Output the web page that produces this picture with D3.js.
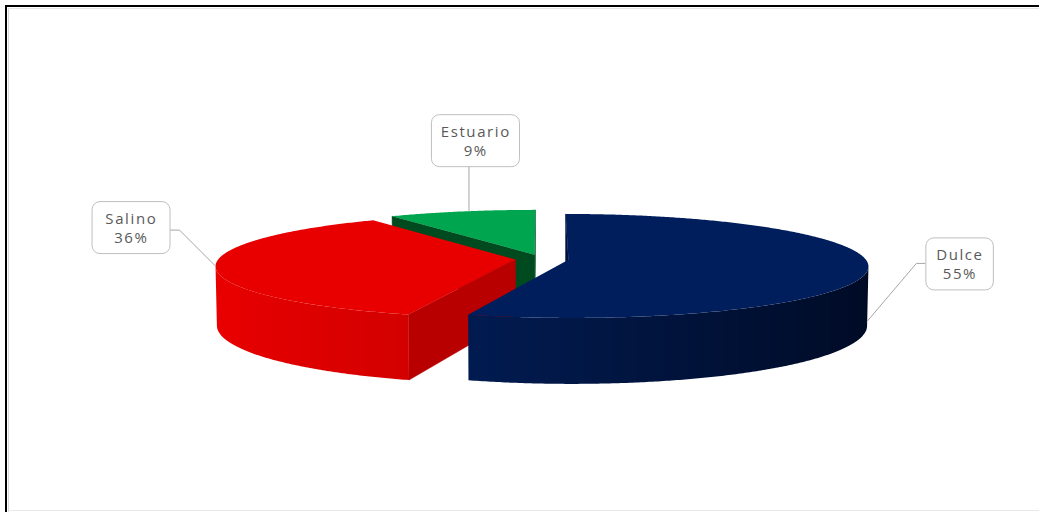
<!DOCTYPE html>
<html>
<head>
<meta charset="utf-8">
<script src="https://cdn.jsdelivr.net/npm/d3@7"></script>
<style>
  html, body { margin: 0; padding: 0; background: #ffffff; }
  svg { display: block; }
</style>
</head>
<body>
<svg id="chart" width="1039" height="512"></svg>
<script>
// ---------- data ----------
const categories = ["Dulce", "Salino", "Estuario"];
const values = [55, 36, 9];
const percentLabels = ["55%", "36%", "9%"];

// ---------- styles ----------
const topColors = ["#011e5c", "#e80000", "#00a54f"];
const sideLight = ["#022468", "#ea0000", "#00a850"];
const sideDark = ["#000a24", "#a80000", "#00602a"];
const radialColors = ["#00123f", "#b90000", "#004a1f"];
const labelAnchorDepth = [0.9, 0, 0];          // fraction of thickness for leader anchor
const labelAnchorFrac = [0.5, 0.5, 0.55];      // position of anchor along the slice angle
const labelBoxOffset = [[92, -58], [-85, -39], [6, -71]]; // box centre relative to anchor
const labelBoxPad = [20, 26, 18];

const W = 1039, H = 512;
const svg = d3.select("#chart");
const defs = svg.append("defs");

// frame
svg.append("rect").attr("x", 0).attr("y", 0).attr("width", W).attr("height", H).attr("fill", "#fff");
svg.append("line").attr("x1", 8.5).attr("y1", 8).attr("x2", 8.5).attr("y2", H).attr("stroke", "#d9d9d9").attr("stroke-width", 1);
svg.append("line").attr("x1", 8).attr("y1", 8.5).attr("x2", W).attr("y2", 8.5).attr("stroke", "#e6e6e6").attr("stroke-width", 1);
svg.append("line").attr("x1", 8).attr("y1", 510.5).attr("x2", W).attr("y2", 510.5).attr("stroke", "#e8e8e8").attr("stroke-width", 1);
svg.append("line").attr("x1", 5).attr("y1", 6).attr("x2", W).attr("y2", 6).attr("stroke", "#000").attr("stroke-width", 2);
svg.append("line").attr("x1", 6).attr("y1", 5).attr("x2", 6).attr("y2", H).attr("stroke", "#000").attr("stroke-width", 2);

// ---------- 3D projection ----------
const cam = { cx: 542, cy: 259, F: 2453, D: 8.26, sa: 0.172 };
cam.ca = Math.sqrt(1 - cam.sa * cam.sa);
const thick = 0.2;     // pie thickness (world units, radius = 1)
const explode = 0.09;  // explosion distance

function proj(X, Z, Y) {
  const Yp = Y * cam.ca + Z * cam.sa;
  const Zp = Z * cam.ca - Y * cam.sa;
  const s = cam.F / (cam.D + Zp);
  return [cam.cx + X * s, cam.cy - Yp * s];
}
function area(pts) {
  let s = 0;
  for (let i = 0; i < pts.length; i++) {
    const a = pts[i], b = pts[(i + 1) % pts.length];
    s += a[0] * b[1] - b[0] * a[1];
  }
  return s;
}
const line = d3.line();
function poly(pts) { return line(pts) + "Z"; }

const pie = d3.pie().sort(null).value(d => d).startAngle(0).endAngle(2 * Math.PI);
const arcs = pie(values).map((a, i) => {
  const mid = (a.startAngle + a.endAngle) / 2;
  return { ...a, i, mid, ox: explode * Math.sin(mid), oz: explode * Math.cos(mid) };
});

const order = arcs.slice().sort((a, b) => b.oz - a.oz);
const gPie = svg.append("g");

order.forEach(a => {
  const g = gPie.append("g");
  const rim = (t, y) => proj(a.ox + Math.sin(t), a.oz + Math.cos(t), y);
  const apex = y => proj(a.ox, a.oz, y);
  const Y0 = 0, Y1 = -thick;
  const shade = d3.interpolateRgb(sideLight[a.i], sideDark[a.i]);

  // radial faces
  const f0 = [apex(Y0), rim(a.startAngle, Y0), rim(a.startAngle, Y1), apex(Y1)];
  const f1 = [rim(a.endAngle, Y0), apex(Y0), apex(Y1), rim(a.endAngle, Y1)];
  [f0, f1].forEach(f => {
    if (area(f) < 0) {
      g.append("path").attr("d", poly(f)).attr("fill", radialColors[a.i])
        .attr("stroke", radialColors[a.i]).attr("stroke-width", 0.5);
    }
  });

  // outer side: group visible segments in runs, one gradient-filled polygon per run
  const n = Math.max(8, Math.ceil((a.endAngle - a.startAngle) / (Math.PI / 360)));
  const ts = d3.range(n + 1).map(k => a.startAngle + (a.endAngle - a.startAngle) * k / n);
  const vis = d3.range(n).map(k => area([rim(ts[k], Y0), rim(ts[k + 1], Y0), rim(ts[k + 1], Y1), rim(ts[k], Y1)]) < 0);
  const runs = [];
  let cur = null;
  vis.forEach((v, k) => {
    if (v) { if (!cur) { cur = [k, k]; runs.push(cur); } else cur[1] = k; }
    else cur = null;
  });
  runs.forEach((r, ri) => {
    const tr = ts.slice(r[0], r[1] + 2);
    const topR = tr.map(t => rim(t, Y0));
    const botR = tr.map(t => rim(t, Y1)).reverse();
    const samples = tr.map(t => {
      const p = rim(t, Y0);
      const dot = -Math.sin(t);
      return { x: p[0], c: shade((1 - dot) / 2) };
    }).sort((u, v) => u.x - v.x);
    const x0 = samples[0].x, x1 = samples[samples.length - 1].x;
    const id = "side" + a.i + "_" + ri;
    const grad = defs.append("linearGradient").attr("id", id)
      .attr("gradientUnits", "userSpaceOnUse")
      .attr("x1", x0).attr("y1", 0).attr("x2", x1).attr("y2", 0);
    samples.forEach(s => {
      grad.append("stop").attr("offset", x1 > x0 ? (s.x - x0) / (x1 - x0) : 0).attr("stop-color", s.c);
    });
    g.append("path").attr("d", poly(topR.concat(botR))).attr("fill", `url(#${id})`);
  });

  // top face
  const topPts = [apex(Y0)];
  const m = Math.ceil((a.endAngle - a.startAngle) / (Math.PI / 360));
  for (let k = 0; k <= m; k++) {
    topPts.push(rim(a.startAngle + (a.endAngle - a.startAngle) * k / m, Y0));
  }
  g.append("path").attr("d", poly(topPts)).attr("fill", topColors[a.i]);
});

// ---------- labels ----------
const gLab = svg.append("g");
arcs.forEach(a => {
  const ta = a.startAngle + (a.endAngle - a.startAngle) * labelAnchorFrac[a.i];
  const anchor = proj(a.ox + Math.sin(ta), a.oz + Math.cos(ta), -thick * labelAnchorDepth[a.i]);
  const bx = anchor[0] + labelBoxOffset[a.i][0];
  const by = anchor[1] + labelBoxOffset[a.i][1];

  const tg = gLab.append("g");
  const txt = tg.append("text")
    .attr("text-anchor", "middle")
    .attr("font-family", "'Open Sans', 'DejaVu Sans', sans-serif")
    .attr("font-size", 15)
    .attr("letter-spacing", "1.6px")
    .attr("fill", "#595959");
  txt.append("tspan").attr("x", bx + 0.8).attr("y", by - 3).text(categories[a.i]);
  txt.append("tspan").attr("x", bx + 0.8).attr("y", by + 16).text(percentLabels[a.i]);
  const bb = txt.node().getBBox();
  const bw = bb.width + labelBoxPad[a.i], bh = 52;
  const rx0 = bx - bw / 2, ry0 = by - bh / 2;

  let path;
  if (anchor[0] > rx0 && anchor[0] < rx0 + bw && anchor[1] > ry0 + bh) {
    path = [anchor, [anchor[0], ry0 + bh]];
  } else if (anchor[0] < rx0) {
    path = [anchor, [rx0 - 9, by], [rx0, by]];
  } else {
    path = [anchor, [rx0 + bw + 10, by + 3], [rx0 + bw, by + 3]];
  }
  gLab.insert("path", ":first-child").attr("d", d3.line()(path))
    .attr("fill", "none").attr("stroke", "#a6a6a6").attr("stroke-width", 1);

  tg.insert("rect", "text")
    .attr("x", rx0 + 0.5).attr("y", ry0 + 0.5)
    .attr("width", bw).attr("height", bh)
    .attr("rx", 8).attr("ry", 8)
    .attr("fill", "#fff").attr("stroke", "#bfbfbf").attr("stroke-width", 1);
});
</script>
</body>
</html>
